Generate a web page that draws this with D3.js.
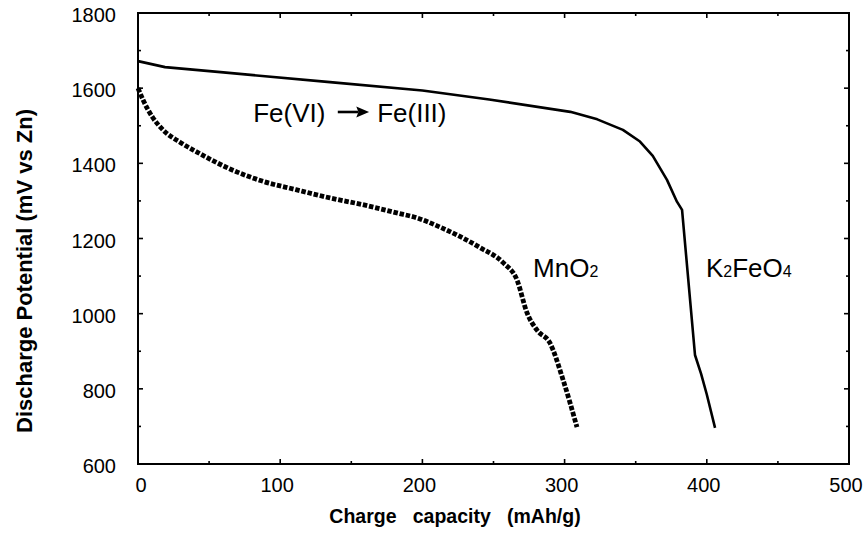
<!DOCTYPE html>
<html>
<head>
<meta charset="utf-8">
<script src="https://cdn.jsdelivr.net/npm/d3@7"></script>
<style>
  body { margin: 0; background: #fff; }
  svg { display: block; font-family: Arial, "Liberation Sans", sans-serif; }
</style>
</head>
<body>
<svg id="chart" width="866" height="534"></svg>
<script>
// discharge curves: [capacity mAh/g, potential mV]
const k2feo4 = [
  [0, 1672], [19, 1656], [60, 1642], [135, 1616], [200, 1594], [247, 1570],
  [304, 1537], [323, 1517], [341, 1489], [353, 1458], [362, 1420], [372, 1356],
  [379, 1298], [382.6, 1276], [391.7, 890], [396, 840], [400, 785], [405.8, 696]
];
const mno2 = [
  [0, 1600], [4, 1565], [10, 1524], [17.6, 1489], [30, 1455], [41.5, 1430],
  [64.7, 1385], [88, 1352], [111, 1330], [135, 1308], [158, 1290], [182, 1268],
  [196, 1255], [212, 1231], [240, 1177], [257, 1135], [266.5, 1090],
  [273.6, 1002], [280.6, 956], [289.7, 922], [299, 823], [308.7, 698]
];
const xTicks = [0, 100, 200, 300, 400, 500];
const yTicks = [600, 800, 1000, 1200, 1400, 1600, 1800];
const xMinor = [50, 150, 250, 350, 450];
const yMinor = [700, 900, 1100, 1300, 1500, 1700];

const svg = d3.select('#chart');
const L = 138, R = 849, T = 13, B = 464;
const x = d3.scaleLinear().domain([0, 500]).range([L, R]);
const y = d3.scaleLinear().domain([600, 1800]).range([B, T]);

// frame
svg.append('rect').attr('x', L).attr('y', T).attr('width', R - L).attr('height', B - T)
  .attr('fill', 'none').attr('stroke', '#000').attr('stroke-width', 2);

// inward ticks on all four sides
const tk = svg.append('g').attr('stroke', '#000').attr('stroke-width', 1.6);
function xt(vals, len) {
  vals.forEach(v => {
    tk.append('line').attr('x1', x(v)).attr('x2', x(v)).attr('y1', B).attr('y2', B - len);
    tk.append('line').attr('x1', x(v)).attr('x2', x(v)).attr('y1', T).attr('y2', T + len);
  });
}
function yt(vals, len) {
  vals.forEach(v => {
    tk.append('line').attr('y1', y(v)).attr('y2', y(v)).attr('x1', L).attr('x2', L + len);
    tk.append('line').attr('y1', y(v)).attr('y2', y(v)).attr('x1', R).attr('x2', R - len);
  });
}
xt(xTicks.slice(1, -1), 5); xt(xMinor, 3);
yt(yTicks.slice(1, -1), 5); yt(yMinor, 3);

// tick labels (the scanned labels sit a few px left of their ticks)
svg.append('g').selectAll('text').data(xTicks).join('text')
  .attr('x', d => x(d) + (d === 0 ? 3 : -3)).attr('y', 492).attr('text-anchor', 'middle')
  .attr('font-size', 20).text(d => d);
svg.append('g').selectAll('text').data(yTicks).join('text')
  .attr('x', 116).attr('y', d => y(d) + 9).attr('text-anchor', 'end')
  .attr('font-size', 20).text(d => d);

// axis titles
svg.append('text').attr('x', 455).attr('y', 523).attr('text-anchor', 'middle')
  .attr('font-size', 19.5).attr('font-weight', 'bold').style('white-space', 'pre')
  .text('Charge   capacity   (mAh/g)');
svg.append('text').attr('transform', 'translate(32,271) rotate(-90)')
  .attr('text-anchor', 'middle').attr('font-size', 22).attr('font-weight', 'bold')
  .text('Discharge Potential (mV vs Zn)');

// curves
svg.append('path').datum(k2feo4)
  .attr('d', d3.line().x(d => x(d[0])).y(d => y(d[1])))
  .attr('fill', 'none').attr('stroke', '#000').attr('stroke-width', 2.6)
  .attr('stroke-linejoin', 'round');
svg.append('path').datum(mno2)
  .attr('d', d3.line().x(d => x(d[0])).y(d => y(d[1])).curve(d3.curveMonotoneX))
  .attr('fill', 'none').attr('stroke', '#000').attr('stroke-width', 4.8)
  .attr('stroke-dasharray', '4.5 1.8');

// annotations
const ann = svg.append('g').attr('font-size', 26);
ann.append('text').attr('x', x(81)).attr('y', y(1510)).text('Fe(VI)');
ann.append('text').attr('x', x(168.2)).attr('y', y(1510)).text('Fe(III)');
const ay = y(1510) - 10;
svg.append('line').attr('x1', x(140.5)).attr('x2', x(155)).attr('y1', ay).attr('y2', ay)
  .attr('stroke', '#000').attr('stroke-width', 2.6);
svg.append('path')
  .attr('d', `M${x(162.5)},${ay} L${x(153.5)},${ay - 5.5} L${x(155)},${ay} L${x(153.5)},${ay + 5.5} Z`)
  .attr('fill', '#000');

const mn = ann.append('text').attr('x', x(277.8)).attr('y', y(1097.5));
mn.append('tspan').text('MnO');
mn.append('tspan').attr('font-size', 16).text('2');
const kf = ann.append('text').attr('x', x(399.4)).attr('y', y(1097.5));
kf.append('tspan').text('K');
kf.append('tspan').attr('font-size', 16).text('2');
kf.append('tspan').text('FeO');
kf.append('tspan').attr('font-size', 16).text('4');
</script>
</body>
</html>
